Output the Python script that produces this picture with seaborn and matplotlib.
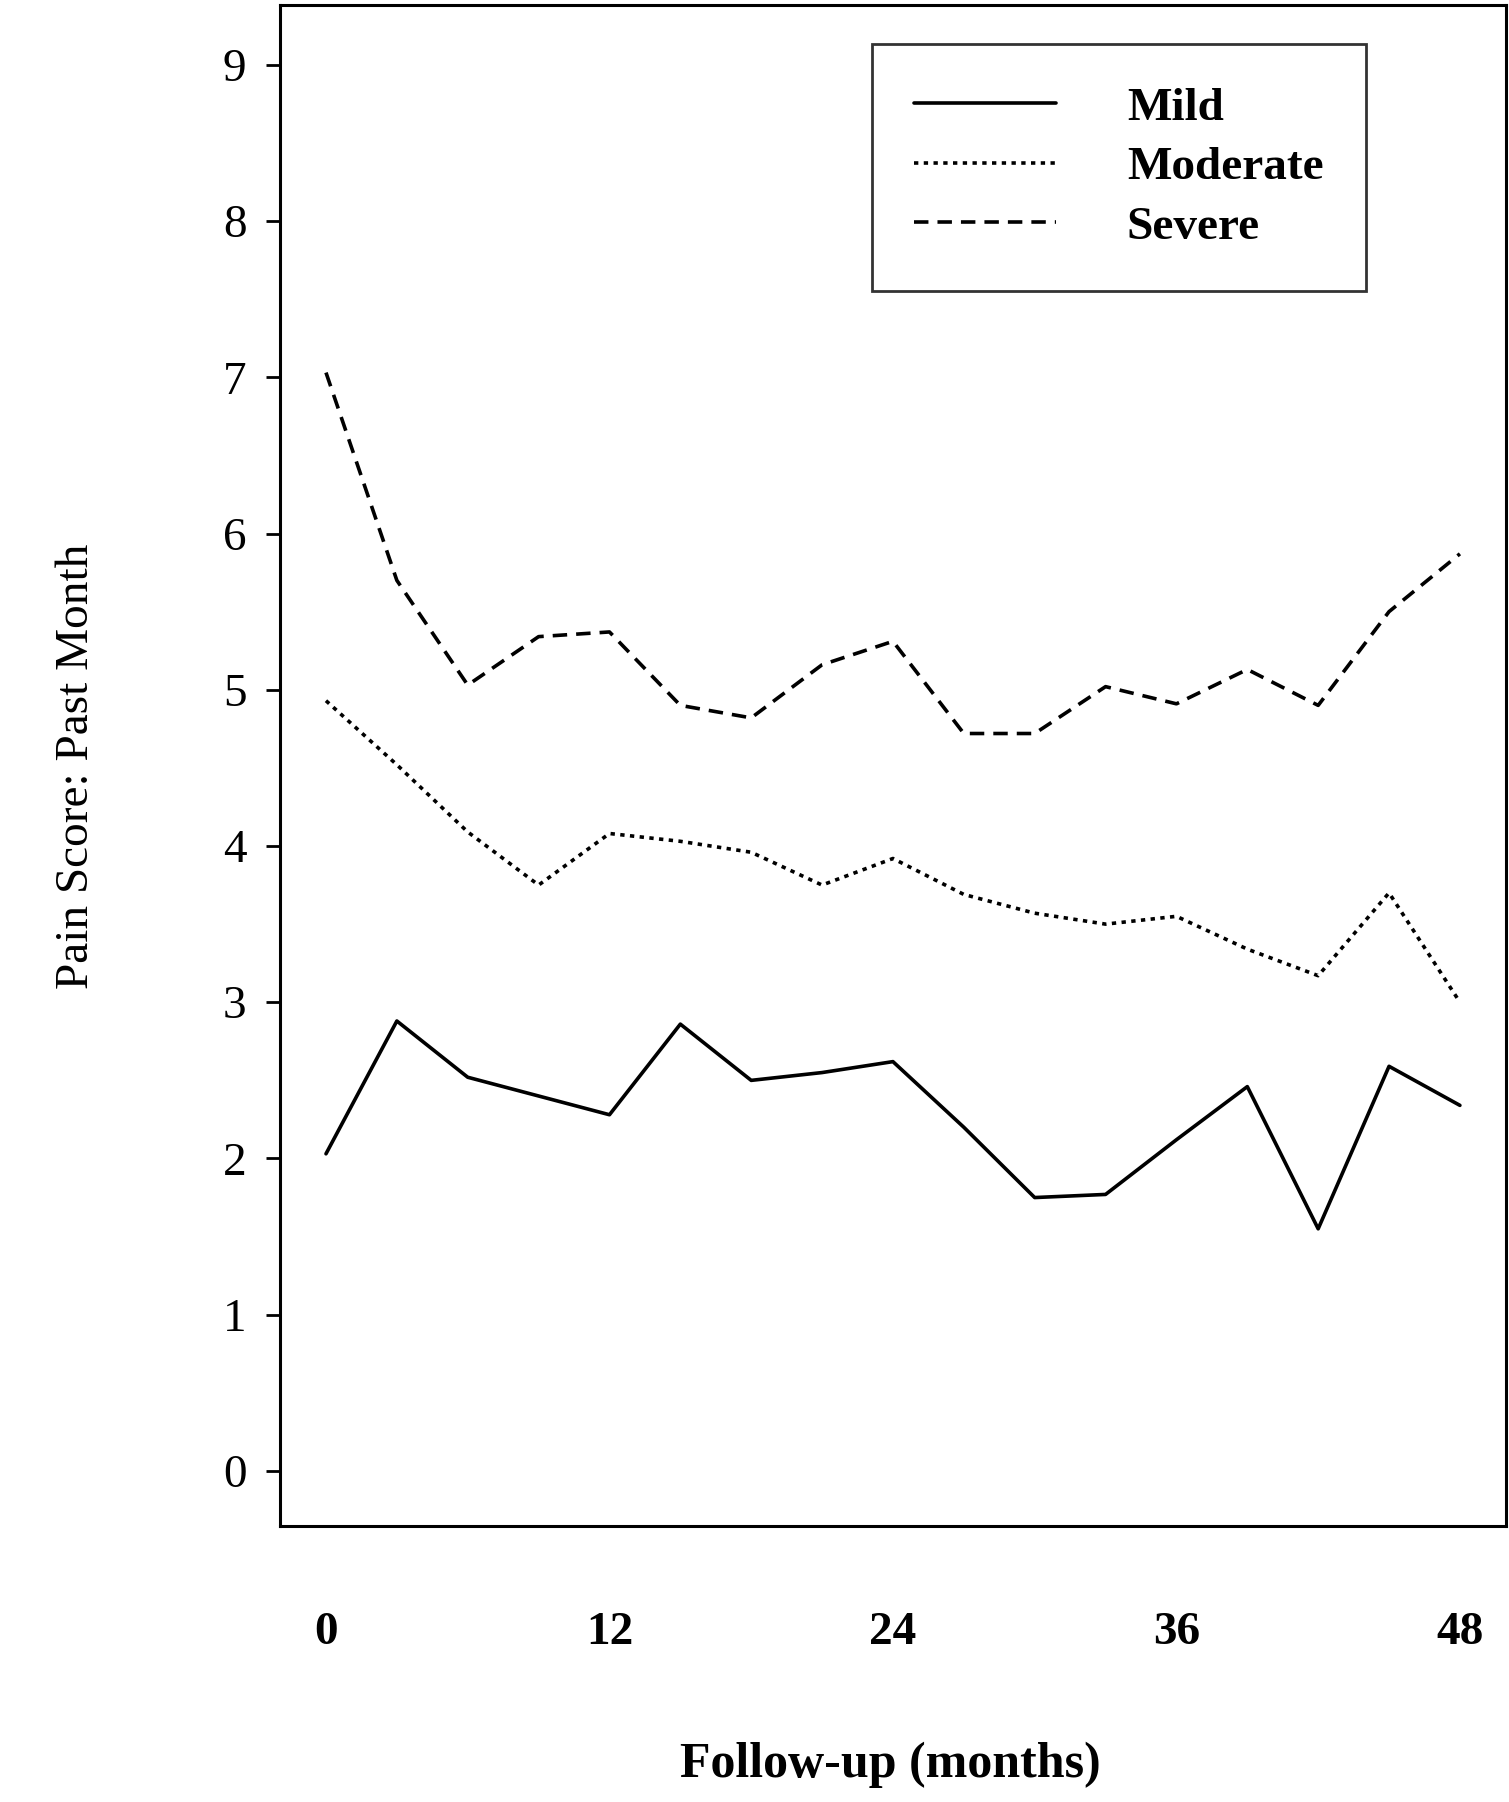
import matplotlib
matplotlib.use("Agg")
import matplotlib.pyplot as plt
import seaborn as sns
import pandas as pd

# ===================== 数据 =====================
months = [0, 3, 6, 9, 12, 15, 18, 21, 24, 27, 30, 33, 36, 39, 42, 45, 48]
mild = [2.03, 2.88, 2.52, 2.40, 2.28, 2.86, 2.50, 2.55, 2.62, 2.20, 1.75, 1.77, 2.12, 2.46, 1.55, 2.59, 2.34]
moderate = [4.93, 4.52, 4.09, 3.75, 4.08, 4.03, 3.96, 3.75, 3.92, 3.69, 3.57, 3.50, 3.55, 3.34, 3.17, 3.70, 3.00]
severe = [7.03, 5.70, 5.03, 5.34, 5.37, 4.90, 4.82, 5.16, 5.31, 4.72, 4.72, 5.02, 4.91, 5.13, 4.90, 5.50, 5.87]

df = pd.DataFrame({
    "month": months * 3,
    "score": mild + moderate + severe,
    "group": ["Mild"] * 17 + ["Moderate"] * 17 + ["Severe"] * 17,
})

sns.set_style("ticks")
plt.rcParams["font.family"] = ["Liberation Serif", "DejaVu Serif"]
plt.rcParams["text.color"] = "black"
plt.rcParams["axes.labelcolor"] = "black"
plt.rcParams["xtick.color"] = "black"
plt.rcParams["ytick.color"] = "black"

fig = plt.figure(figsize=(15.09, 18.02), dpi=100)
ax = fig.add_axes([0.1855, 0.153, 0.8125, 0.844])

styles = {"Mild": "-", "Moderate": (0, (1.2, 1.5)), "Severe": (0, (4, 2.5))}
for g, ls in styles.items():
    sns.lineplot(data=df[df.group == g], x="month", y="score", ax=ax,
                 color="black", linestyle=ls, linewidth=2.6, label=g)

ax.set_xlim(-1.95, 49.95)
ax.set_ylim(-0.354, 9.38)
ax.set_xticks([0, 12, 24, 36, 48])
ax.set_yticks(range(10))
ax.tick_params(axis="y", labelsize=34, length=10, width=2, pad=14)
ax.tick_params(axis="x", labelsize=34, length=0, pad=62)
for lab in ax.get_xticklabels():
    lab.set_fontweight("bold")
for s in ax.spines.values():
    s.set_linewidth(2.2)
    s.set_color("black")

ax.set_xlabel("")
fig.text(0.59, 0.008, "Follow-up (months)", fontsize=36, fontweight="bold",
         ha="center", va="bottom")
ax.set_ylabel("Pain Score: Past Month", fontsize=34, labelpad=90)

leg = ax.legend(loc="upper right", bbox_to_anchor=(0.905, 0.99), fontsize=34,
                frameon=True, fancybox=False, edgecolor="black", handlelength=3.0,
                handletextpad=1.5, borderpad=0.9, labelspacing=0.35)
leg.get_frame().set_linewidth(2)
for t in leg.get_texts():
    t.set_fontweight("bold")

plt.savefig("out.png", dpi=100)
plt.close()
